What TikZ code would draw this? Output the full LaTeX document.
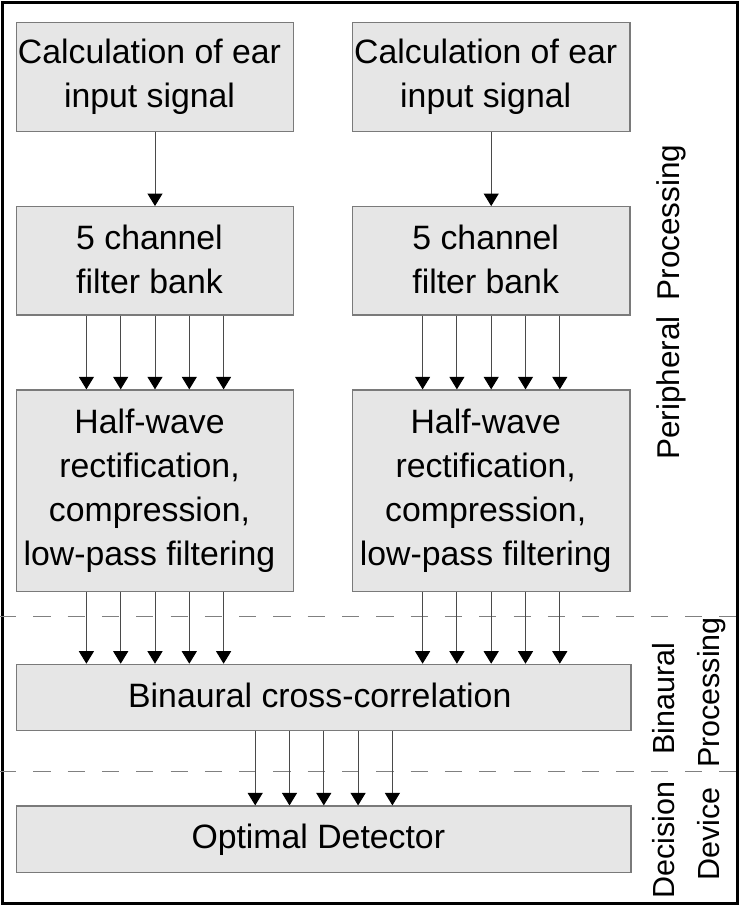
\documentclass[tikz,border=0pt]{standalone}
\usepackage{fontspec}
\setmainfont{Liberation Sans}
\usetikzlibrary{arrows.meta}
\definecolor{boxfill}{HTML}{E6E6E6}
\definecolor{boxborder}{HTML}{7A7A7A}
\definecolor{arrline}{HTML}{4A4A4A}
\definecolor{dashcol}{HTML}{808080}
\newcommand{\mainsz}{\fontsize{33.8pt}{44pt}\selectfont}
\newcommand{\sidesz}{\fontsize{30.5pt}{40pt}\selectfont}
\newcommand{\lastdp}{\rule[-4pt]{0pt}{4pt}}
\newcommand{\rpad}{\makebox[11pt]{}}
\begin{document}
\begin{tikzpicture}[x=1pt,y=-1pt,
  box/.style={draw=boxborder, fill=boxfill, line width=1.2pt, inner sep=0pt, align=center, font=\mainsz},
  wbox/.style={draw=boxborder, fill=boxfill, line width=1.2pt, inner sep=0pt, font=\mainsz,
    text height=24.2pt, text depth=5pt, minimum width=614.5pt, minimum height=66.4pt},
  arr/.style={draw=arrline, line width=1pt, -{Triangle[width=15pt,length=12.5pt,color=black]}},
  sidelabel/.style={font=\sidesz, rotate=90, anchor=base, inner sep=0pt},
  sep/.style={draw=dashcol, line width=1pt, dash pattern=on 17.2pt off 17.1pt, dash phase=1pt}]
\useasboundingbox (0,0) rectangle (742,906);
% outer frame
\draw[line width=2.5pt, black] (2.5,2.5) rectangle (737.5,903.5);
% separators
\draw[sep] (0,616) -- (736,616);
\draw[sep] (0,771.7) -- (736,771.7);
% left chain
\node[box, minimum width=277.4pt, minimum height=108.3pt] (in1) at (155,77) {Calculation of ear\rpad\\input signal\rpad\lastdp};
\node[box, minimum width=277.4pt, minimum height=108.3pt] (fb1) at (155,260.8) {5 channel\rpad\\filter bank\rpad\lastdp};
\node[box, minimum width=277.4pt, minimum height=201.7pt] (hw1) at (155,490.8) {Half-wave\rpad\\rectification,\rpad\\compression,\rpad\\low-pass filtering\rpad\lastdp};
% right chain
\node[box, minimum width=277.4pt, minimum height=108.3pt] (in2) at (491.2,77) {Calculation of ear\rpad\\input signal\rpad\lastdp};
\node[box, minimum width=277.4pt, minimum height=108.3pt] (fb2) at (491.2,260.8) {5 channel\rpad\\filter bank\rpad\lastdp};
\node[box, minimum width=277.4pt, minimum height=201.7pt] (hw2) at (491.2,490.8) {Half-wave\rpad\\rectification,\rpad\\compression,\rpad\\low-pass filtering\rpad\lastdp};
% binaural and detector
\node[wbox] (bin) at (323.8,697.5) {Binaural cross-correlation\makebox[8pt]{}};
\node[wbox] (det) at (323.8,839.2) {Optimal Detector\rpad};
% connectors
\draw[arr] (in1) -- (fb1);
\draw[arr] (in2) -- (fb2);
\foreach \k in {-2,...,2}{
  \draw[arr] ([xshift=\k*34.3pt]fb1.south) -- ([xshift=\k*34.3pt]hw1.north);
  \draw[arr] ([xshift=\k*34.3pt]fb2.south) -- ([xshift=\k*34.3pt]hw2.north);
  \draw[arr] ([xshift=\k*34.3pt]hw1.south) -- ([xshift=\k*34.3pt]hw1.south |- bin.north);
  \draw[arr] ([xshift=\k*34.3pt]hw2.south) -- ([xshift=\k*34.3pt]hw2.south |- bin.north);
  \draw[arr] ([xshift=\k*34.3pt]bin.south) -- ([xshift=\k*34.3pt]det.north);
}
% side labels
\node[sidelabel, font=\fontsize{31.5pt}{40pt}\selectfont] (lper) at (679,302) {Peripheral\hspace{0.5em}Processing};
\node[sidelabel] (lbin) at (674.3,699) {Binaural};
\node[sidelabel] (lbinp) at (719.3,692.5) {Processing};
\node[sidelabel] (ldec) at (674.3,840) {Decision};
\node[sidelabel] (ldev) at (719.3,834) {Device};
\end{tikzpicture}
\end{document}
